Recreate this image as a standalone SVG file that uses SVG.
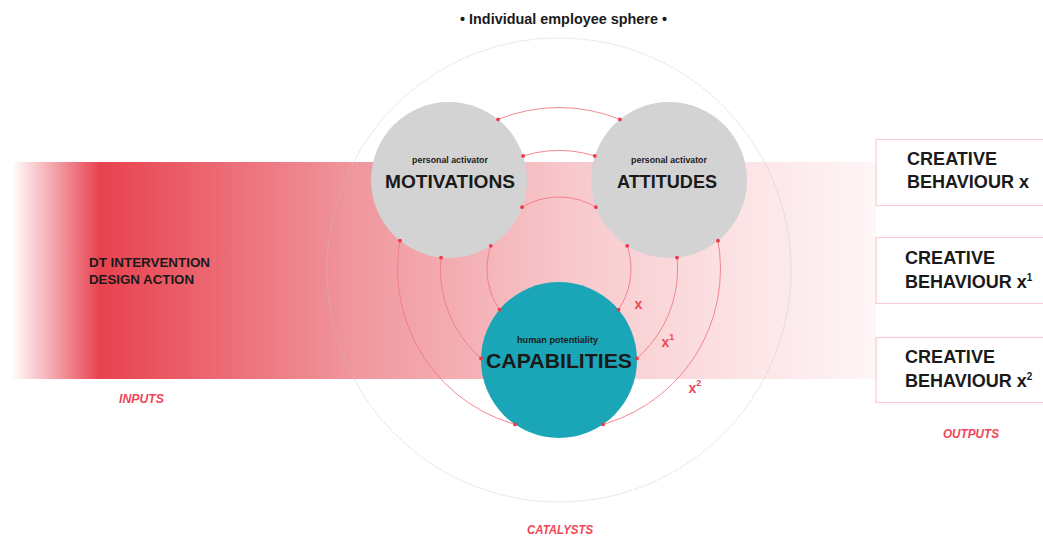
<svg xmlns="http://www.w3.org/2000/svg" width="1043" height="536" viewBox="0 0 1043 536">
  <defs>
    <linearGradient id="bandGrad" gradientUnits="userSpaceOnUse" x1="0" y1="0" x2="876" y2="0">
      <stop offset="0.013" stop-color="#ffffff"/>
      <stop offset="0.114" stop-color="#e8424f"/>
      <stop offset="0.40" stop-color="#f0959c"/>
      <stop offset="0.64" stop-color="#f7c6ca"/>
      <stop offset="0.845" stop-color="#fce3e5"/>
      <stop offset="1" stop-color="#fef6f7"/>
    </linearGradient>
    <style>
      .t { font-family: "Liberation Sans", Arial, sans-serif; font-weight: 700; fill: #1a1a1a; }
      .red { font-family: "Liberation Sans", Arial, sans-serif; font-weight: 700; fill: #ef4655; }
      .ital { font-style: italic; }
      .ring { fill: none; stroke: #f27a85; stroke-width: 0.9; }
      .dot { fill: #ee3a48; }
      .gray { fill: #d3d3d3; }
      .box { fill: #ffffff; stroke: #f8cdd1; stroke-width: 1.2; }
    </style>
  </defs>

  <!-- input band -->
  <rect id="band" x="0" y="162" width="876" height="217" fill="url(#bandGrad)"/>

  <!-- individual employee sphere -->
  <g id="sphere">
    <circle cx="559" cy="270" r="232" fill="none" stroke="#c4c4c4" stroke-width="0.8" stroke-dasharray="1 1"/>
    <text class="t" x="563.5" y="24" font-size="15" text-anchor="middle" textLength="207" lengthAdjust="spacingAndGlyphs">• Individual employee sphere •</text>
  </g>

  <!-- connectors: concentric catalyst rings -->
  <g id="connectors">
    <circle class="ring" cx="559" cy="269" r="72"/>
    <circle class="ring" cx="559" cy="269" r="118.6"/>
    <circle class="ring" cx="559" cy="269" r="161.5"/>
  </g>

  <g id="node-motivations">
    <circle class="gray" cx="449" cy="180" r="78"/>
    <text class="t" x="450" y="162.7" font-size="8.8" text-anchor="middle">personal activator</text>
    <text class="t" x="450" y="188.3" font-size="18.5" text-anchor="middle" textLength="130" lengthAdjust="spacingAndGlyphs">MOTIVATIONS</text>
  </g>

  <g id="node-attitudes">
    <circle class="gray" cx="669" cy="180" r="78"/>
    <text class="t" x="669" y="162.7" font-size="8.8" text-anchor="middle">personal activator</text>
    <text class="t" x="667" y="188.3" font-size="18.5" text-anchor="middle" textLength="100" lengthAdjust="spacingAndGlyphs">ATTITUDES</text>
  </g>

  <g id="node-capabilities">
    <circle cx="559" cy="360" r="78" fill="#1ba6b7"/>
    <text class="t" x="557.5" y="343" font-size="9.2" text-anchor="middle" textLength="81" lengthAdjust="spacingAndGlyphs">human potentiality</text>
    <text class="t" x="559" y="368" font-size="21" text-anchor="middle" textLength="146" lengthAdjust="spacingAndGlyphs">CAPABILITIES</text>
  </g>

  <!-- connector end dots -->
  <g id="connector-ends">
    <circle class="dot" cx="522.1" cy="207.2" r="1.9"/>
    <circle class="dot" cx="490.8" cy="245.8" r="1.9"/>
    <circle class="dot" cx="523.2" cy="155.9" r="1.9"/>
    <circle class="dot" cx="441" cy="257.6" r="1.9"/>
    <circle class="dot" cx="498.1" cy="119.4" r="1.9"/>
    <circle class="dot" cx="400" cy="240.7" r="1.9"/>
    <circle class="dot" cx="595.9" cy="207.2" r="1.9"/>
    <circle class="dot" cx="627.2" cy="245.8" r="1.9"/>
    <circle class="dot" cx="594.8" cy="155.9" r="1.9"/>
    <circle class="dot" cx="677" cy="257.6" r="1.9"/>
    <circle class="dot" cx="619.9" cy="119.4" r="1.9"/>
    <circle class="dot" cx="718" cy="240.7" r="1.9"/>
    <circle class="dot" cx="499.5" cy="309.6" r="1.9"/>
    <circle class="dot" cx="618.5" cy="309.6" r="1.9"/>
    <circle class="dot" cx="481" cy="358.4" r="1.9"/>
    <circle class="dot" cx="637" cy="358.4" r="1.9"/>
    <circle class="dot" cx="515" cy="424.4" r="1.9"/>
    <circle class="dot" cx="603" cy="424.4" r="1.9"/>
  </g>

  <!-- ring labels -->
  <g id="ring-labels">
    <text class="red" x="634.5" y="309" font-size="14">x</text>
    <text class="red" x="661.5" y="347" font-size="14">x<tspan font-size="9" dy="-7">1</tspan></text>
    <text class="red" x="688.5" y="393" font-size="14">x<tspan font-size="9" dy="-7">2</tspan></text>
  </g>

  <g id="node-input">
    <text class="t" x="89" y="267.3" font-size="13.5" textLength="121" lengthAdjust="spacingAndGlyphs">DT INTERVENTION</text>
    <text class="t" x="89" y="284" font-size="13.5" textLength="105" lengthAdjust="spacingAndGlyphs">DESIGN ACTION</text>
  </g>

  <g id="node-output-1">
    <rect class="box" x="876" y="139.5" width="180" height="66"/>
    <text class="t" x="907" y="165" font-size="18" textLength="90" lengthAdjust="spacingAndGlyphs">CREATIVE</text>
    <text class="t" x="907" y="188" font-size="18" textLength="122" lengthAdjust="spacingAndGlyphs">BEHAVIOUR x</text>
  </g>
  <g id="node-output-2">
    <rect class="box" x="876" y="237.5" width="180" height="66"/>
    <text class="t" x="905" y="264" font-size="18" textLength="90" lengthAdjust="spacingAndGlyphs">CREATIVE</text>
    <text class="t" x="905" y="288" font-size="18">BEHAVIOUR x<tspan font-size="10" dy="-7">1</tspan></text>
  </g>
  <g id="node-output-3">
    <rect class="box" x="876" y="337.5" width="180" height="65"/>
    <text class="t" x="905" y="363" font-size="18" textLength="90" lengthAdjust="spacingAndGlyphs">CREATIVE</text>
    <text class="t" x="905" y="387" font-size="18">BEHAVIOUR x<tspan font-size="10" dy="-7">2</tspan></text>
  </g>

  <g id="section-labels">
    <text class="red ital" x="119" y="403" font-size="12.5" textLength="45" lengthAdjust="spacingAndGlyphs">INPUTS</text>
    <text class="red ital" x="943" y="438" font-size="12.5" textLength="56" lengthAdjust="spacingAndGlyphs">OUTPUTS</text>
    <text class="red ital" x="527" y="534" font-size="12.5" textLength="66" lengthAdjust="spacingAndGlyphs">CATALYSTS</text>
  </g>
</svg>
